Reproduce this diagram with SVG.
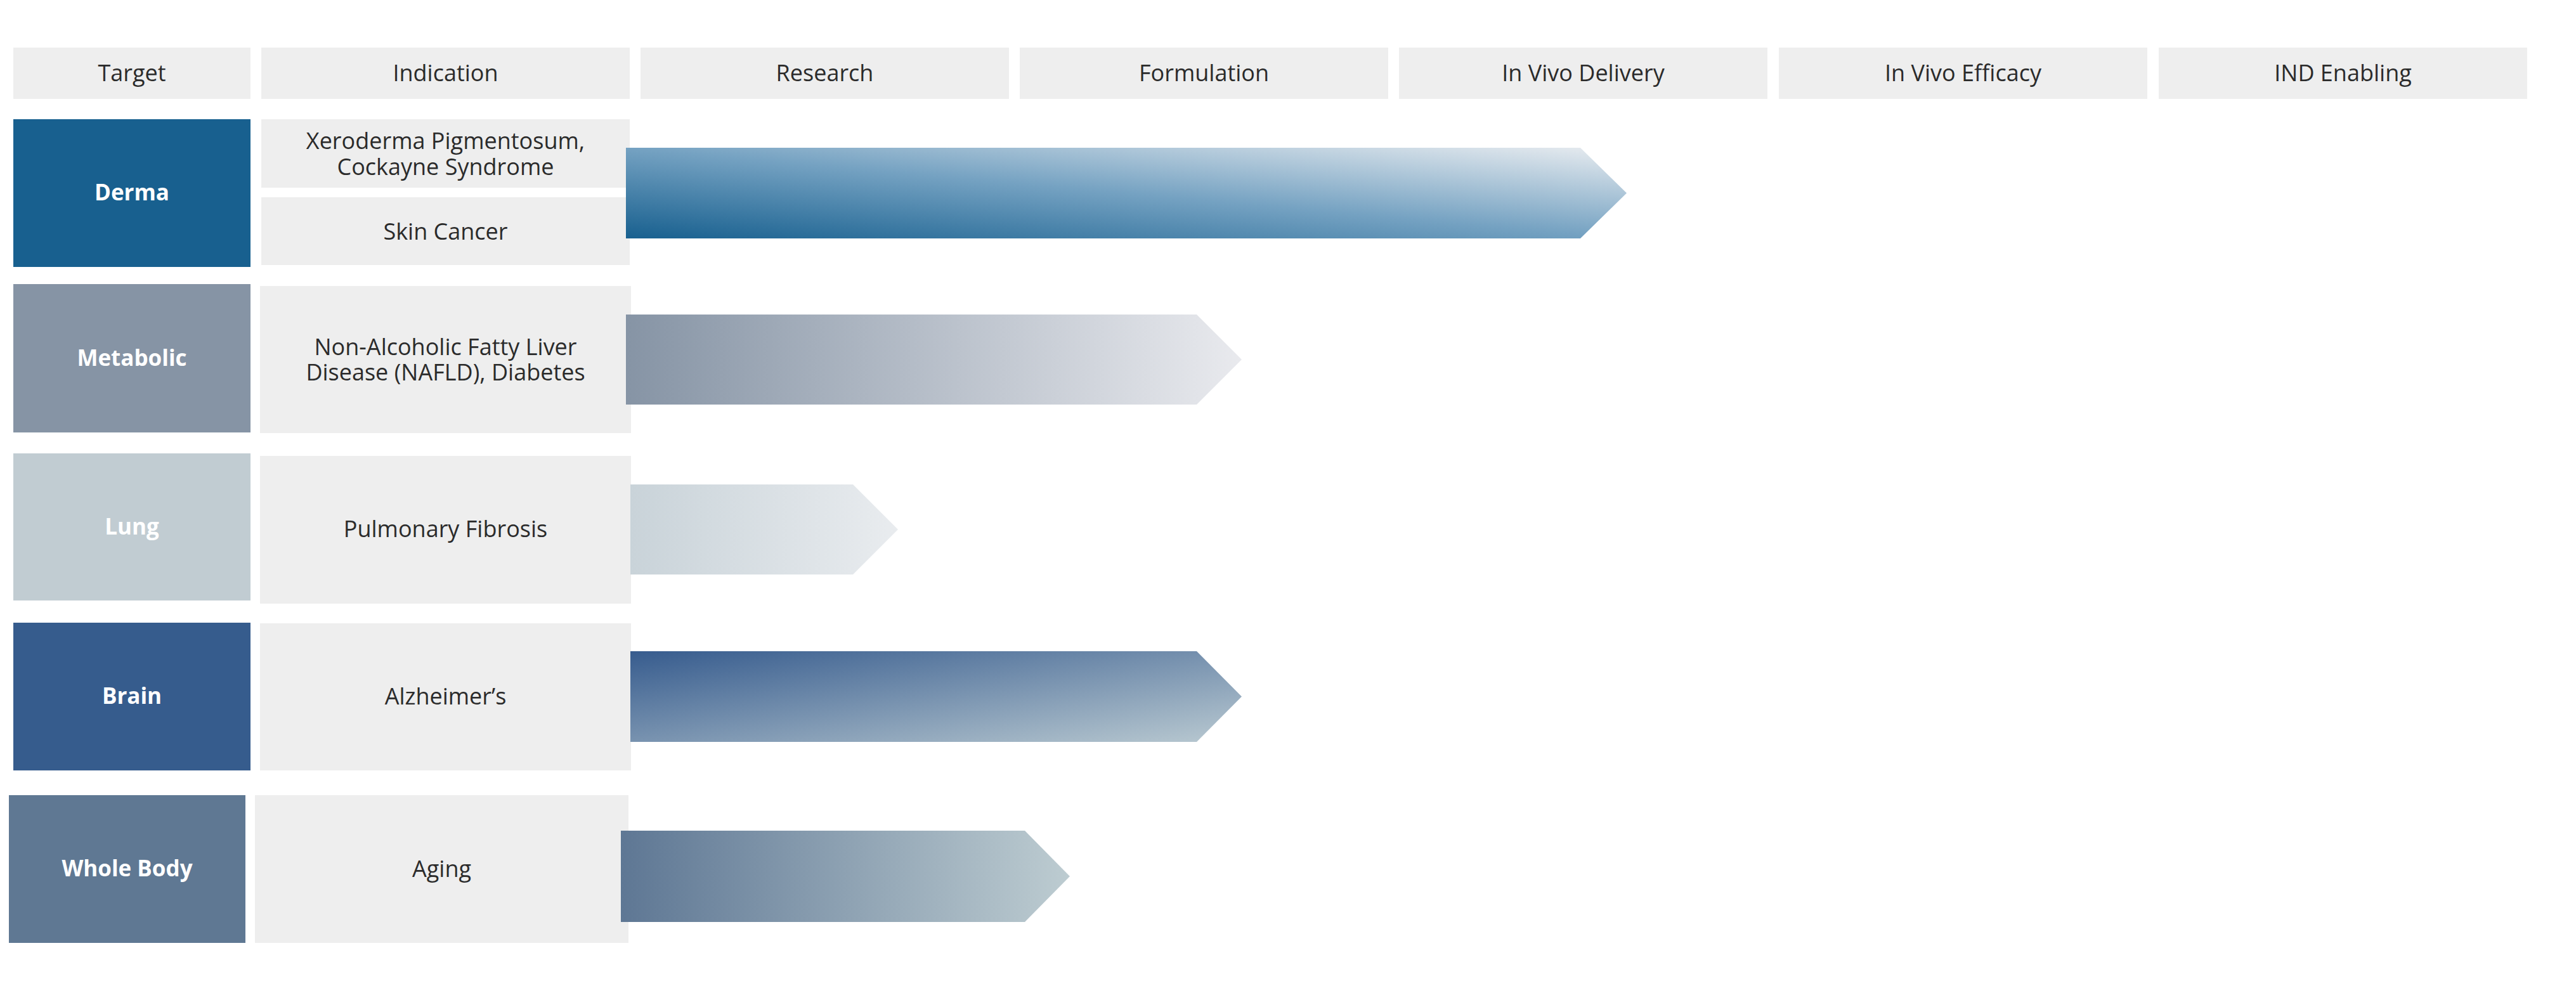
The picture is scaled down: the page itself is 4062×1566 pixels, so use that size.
<svg xmlns="http://www.w3.org/2000/svg" width="4062" height="1566" viewBox="0 0 4062 1566">
<style>
.hdr{fill:#eeeeee}
.cell{fill:#eeeeee}
.t{font-family:"Open Sans","Noto Sans","Liberation Sans",sans-serif;font-size:36px;fill:#2b2b2b;text-anchor:middle}
.tb{font-family:"Open Sans","Noto Sans","Liberation Sans",sans-serif;font-size:35px;font-weight:bold;fill:#ffffff;text-anchor:middle}
</style>
<defs>
<linearGradient id="gDerma" x1="0" y1="1" x2="1" y2="0">
<stop offset="0" stop-color="#18608f"/>
<stop offset="0.5" stop-color="#75a2c2"/>
<stop offset="1" stop-color="#e8ecf0"/>
</linearGradient>
<linearGradient id="gMeta" x1="0" y1="0" x2="1" y2="0">
<stop offset="0" stop-color="#8694a5"/>
<stop offset="1" stop-color="#e9eaee"/>
</linearGradient>
<linearGradient id="gLung" x1="0" y1="0" x2="1" y2="0">
<stop offset="0" stop-color="#c9d3d9"/>
<stop offset="1" stop-color="#e9ecef"/>
</linearGradient>
<linearGradient id="gBrain" x1="0" y1="0" x2="1" y2="1">
<stop offset="0" stop-color="#375c8e"/>
<stop offset="1" stop-color="#b9c9d1"/>
</linearGradient>
<linearGradient id="gAging" x1="0" y1="0" x2="1" y2="0">
<stop offset="0" stop-color="#5e7794"/>
<stop offset="1" stop-color="#bdccd1"/>
</linearGradient>
</defs>

<g id="header">
<g id="h-target"><rect class="hdr" x="21" y="75" width="374" height="81"/><text class="t" x="208" y="128">Target</text></g>
<g id="h-indication"><rect class="hdr" x="412" y="75" width="581" height="81"/><text class="t" x="702.5" y="128">Indication</text></g>
<g id="h-research"><rect class="hdr" x="1010" y="75" width="581" height="81"/><text class="t" x="1300.5" y="128">Research</text></g>
<g id="h-formulation"><rect class="hdr" x="1608" y="75" width="581" height="81"/><text class="t" x="1898.5" y="128">Formulation</text></g>
<g id="h-delivery"><rect class="hdr" x="2206" y="75" width="581" height="81"/><text class="t" x="2496.5" y="128">In Vivo Delivery</text></g>
<g id="h-efficacy"><rect class="hdr" x="2805" y="75" width="581" height="81"/><text class="t" x="3095.5" y="128">In Vivo Efficacy</text></g>
<g id="h-ind"><rect class="hdr" x="3404" y="75" width="581" height="81"/><text class="t" x="3694.5" y="128">IND Enabling</text></g>
</g>

<g id="derma"><rect x="21" y="188" width="374" height="233" fill="#18608f"/><text class="tb" x="208" y="316">Derma</text></g>
<g id="xeroderma"><rect class="cell" x="412" y="188" width="581" height="108"/><text class="t" x="702.5" y="235"><tspan x="702.5" y="235">Xeroderma Pigmentosum,</tspan><tspan x="702.5" y="275.5">Cockayne Syndrome</tspan></text></g>
<g id="skin-cancer"><rect class="cell" x="412" y="311" width="581" height="107"/><text class="t" x="702.5" y="377.5">Skin Cancer</text></g>

<g id="metabolic"><rect x="21" y="448" width="374" height="234" fill="#8694a5"/><text class="tb" x="208" y="577">Metabolic</text></g>
<g id="nafld"><rect class="cell" x="410" y="451" width="585" height="232"/><text class="t" x="702.5" y="560"><tspan x="702.5" y="560">Non-Alcoholic Fatty Liver</tspan><tspan x="702.5" y="600">Disease (NAFLD), Diabetes</tspan></text></g>

<g id="lung"><rect x="21" y="715" width="374" height="232" fill="#c1ccd2"/><text class="tb" x="208" y="843">Lung</text></g>
<g id="pulmonary"><rect class="cell" x="410" y="719" width="585" height="233"/><text class="t" x="702.5" y="847">Pulmonary Fibrosis</text></g>

<g id="brain"><rect x="21" y="982" width="374" height="233" fill="#365c8d"/><text class="tb" x="208" y="1110">Brain</text></g>
<g id="alzheimers"><rect class="cell" x="410" y="983" width="585" height="232"/><text class="t" x="702.5" y="1111">Alzheimer’s</text></g>

<g id="whole-body"><rect x="14" y="1254" width="373" height="233" fill="#5f7893"/><text class="tb" x="200.5" y="1382">Whole Body</text></g>
<g id="aging"><rect class="cell" x="402" y="1254" width="589" height="233"/><text class="t" x="696.5" y="1383">Aging</text></g>

<g id="connectors">
<polygon id="a-derma" fill="url(#gDerma)" points="987,233 2492,233 2565,304.5 2492,376 987,376"/>
<polygon id="a-metabolic" fill="url(#gMeta)" points="987,496 1887,496 1958,567 1887,638 987,638"/>
<polygon id="a-lung" fill="url(#gLung)" points="994,764 1345,764 1416,835 1345,906 994,906"/>
<polygon id="a-brain" fill="url(#gBrain)" points="994,1027 1887,1027 1958,1098.5 1887,1170 994,1170"/>
<polygon id="a-aging" fill="url(#gAging)" points="979,1310 1616,1310 1687,1382 1616,1454 979,1454"/>
</g>
</svg>
